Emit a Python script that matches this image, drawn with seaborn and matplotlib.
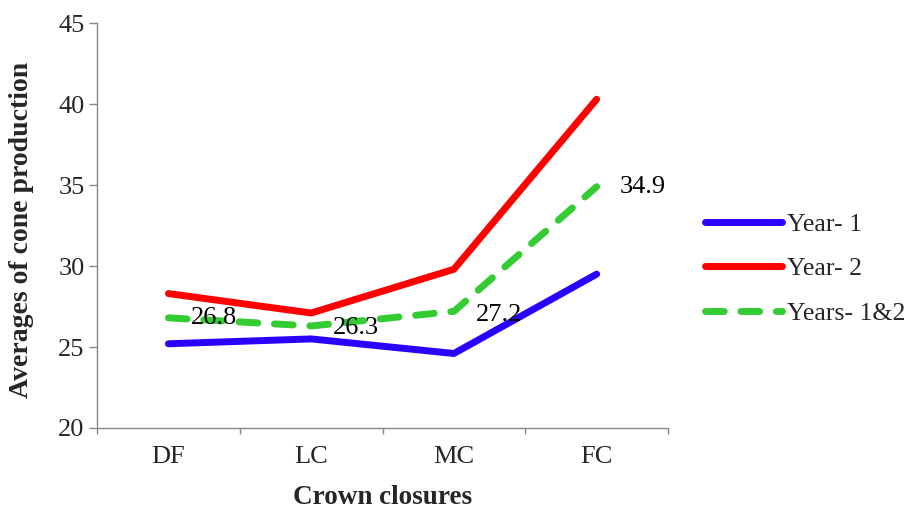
import matplotlib
matplotlib.use("Agg")
import matplotlib.pyplot as plt
import seaborn as sns
import pandas as pd
from matplotlib.ticker import FixedLocator, NullFormatter

categories = ["DF", "LC", "MC", "FC"]
year1 = [25.2, 25.5, 24.6, 29.5]
year2 = [28.3, 27.1, 29.8, 40.3]
years12 = [26.8, 26.3, 27.2, 34.9]
series_names = ["Year- 1", "Year- 2", "Years- 1&2"]
label_values = years12

sns.set_style("white")
plt.rcParams["font.family"] = ["Liberation Serif", "DejaVu Serif"]

df = pd.DataFrame({
    "cat": categories * 3,
    "value": year1 + year2 + years12,
    "series": [series_names[0]] * 4 + [series_names[1]] * 4 + [series_names[2]] * 4,
})

fig = plt.figure(figsize=(9.17, 5.08), dpi=100)
ax = fig.add_axes([0.1058, 0.1575, 0.6227, 0.797])

palette = {"Year- 1": "#2a00ff", "Year- 2": "#ff0000", "Years- 1&2": "#33cc33"}
dashes = {"Year- 1": "", "Year- 2": "", "Years- 1&2": (2.7, 2.4)}
sns.lineplot(data=df, x="cat", y="value", hue="series", style="series",
             palette=palette, dashes=dashes, linewidth=5, ax=ax,
             legend=True, sort=False)
for line in ax.get_lines():
    line.set_solid_capstyle("round")
    line.set_dash_capstyle("round")

# data labels for combined series
offsets = [(0.155, 0.0), (0.155, -0.15), (0.155, -0.25), (0.16, 0.0)]
for i, v in enumerate(label_values):
    dx, dy = offsets[i]
    ax.text(i + dx, v + dy, f"{v}", fontsize=19, va="center", ha="left", color="black")

ax.set_xlim(-0.5, 3.5)
ax.set_ylim(20, 45)
ax.set_yticks([20, 25, 30, 35, 40, 45])
ax.set_xticks(range(4))
ax.set_xticklabels(categories)
ax.xaxis.set_minor_locator(FixedLocator([-0.5, 0.5, 1.5, 2.5, 3.5]))
ax.xaxis.set_minor_formatter(NullFormatter())
ax.tick_params(axis="x", which="major", bottom=False, length=0, labelsize=19, pad=13)
ax.tick_params(axis="x", which="minor", bottom=True, length=4.5, color="#888888", width=1, direction="out")
ax.tick_params(axis="y", left=True, length=6, color="#888888", width=1, direction="out", labelsize=19, pad=3)
for s in ["top", "right"]:
    ax.spines[s].set_visible(False)
for s in ["left", "bottom"]:
    ax.spines[s].set_color("#888888")
    ax.spines[s].set_linewidth(1)

ax.set_xlabel("Crown closures", fontsize=19.5, fontweight="bold", labelpad=12)
ax.set_ylabel("Averages of cone production", fontsize=20, fontweight="bold")
ax.yaxis.set_label_coords(-0.111, 0.489)

leg = ax.legend(loc="center left", bbox_to_anchor=(0.769, 0.4705),
                bbox_transform=fig.transFigure, frameon=False, borderpad=0,
                borderaxespad=0, fontsize=18.5, handlelength=3.0,
                labelspacing=0.85, handletextpad=0.2)

fig.savefig("out.png", dpi=100)
